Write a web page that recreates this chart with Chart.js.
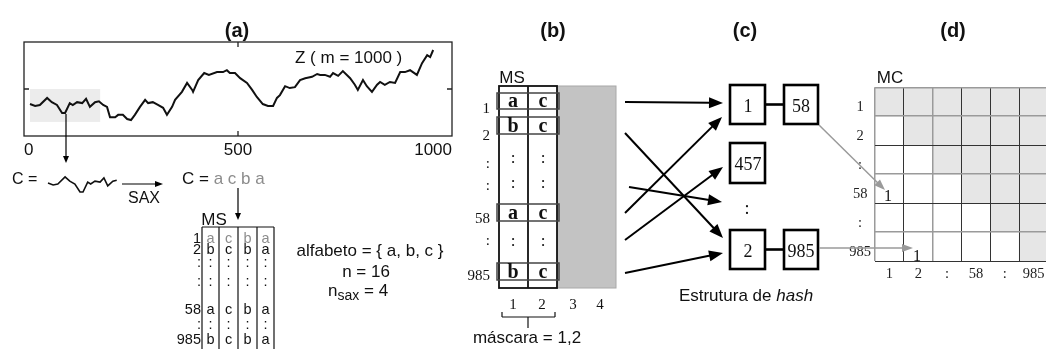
<!DOCTYPE html>
<html><head><meta charset="utf-8">
<script src="https://cdn.jsdelivr.net/npm/chart.js@4.4.1/dist/chart.umd.min.js"></script>
<style>
html,body{margin:0;padding:0;background:#fff;overflow:hidden;width:1046px;height:349px;}
#wrap{position:relative;width:1046px;height:349px;overflow:hidden;}
canvas{position:absolute;}
#cz{left:0;top:0;}
#cc{left:44px;top:164px;}
#cm{left:840px;top:76px;}
#ov{position:absolute;left:0;top:0;}
</style></head><body>
<div id="wrap">
<canvas id="cz" width="480" height="175"></canvas>
<canvas id="cc" width="78" height="41"></canvas>
<canvas id="cm" width="240" height="214"></canvas>
<svg id="ov" width="1046" height="349" xmlns="http://www.w3.org/2000/svg"></svg>
</div>
<script>
// ---------- DATA ----------
const zX = [14,26,37,54,65,77,89,96,107,114,124,136,145,154,166,175,185,194,201,213,220,231,241,250,259,271,283,290,301,313,325,334,346,353,369,381,393,395,407,421,432,451,465,474,481,493,505,521,533,544,558,570,582,591,598,610,621,633,645,657,673,685,692,703,715,722,734,745,762,773,780,792,801,813,825,832,843,855,867,879,890,902,918,930,942,949,956];
const zY = [-0.32,-0.36,-0.34,-0.19,-0.28,-0.34,-0.51,-0.51,-0.30,-0.34,-0.28,-0.30,-0.21,-0.38,-0.28,-0.26,-0.34,-0.38,-0.60,-0.60,-0.55,-0.55,-0.64,-0.66,-0.55,-0.38,-0.23,-0.30,-0.28,-0.34,-0.40,-0.55,-0.38,-0.23,-0.06,0.13,-0.02,-0.06,0.19,0.34,0.30,0.36,0.36,0.40,0.34,0.34,0.23,0.13,-0.02,-0.17,-0.32,-0.36,-0.36,-0.19,-0.13,0.06,0.02,0.04,0.19,0.23,0.26,0.32,0.30,0.30,0.26,0.34,0.28,0.38,0.23,0.09,-0.02,0.19,0.06,-0.06,0.09,0.15,0.09,0.15,0.13,0.36,0.36,0.40,0.30,0.55,0.72,0.68,0.83];
const xTicks = [0, 500, 1000];
const yTicks = [0];
const windowX = [14, 178];      // highlighted subsequence C
const windowY = [-0.70, 0];
const saxWord = ['a','c','b','a'];
const msLabels = ['1','2',':',':','58',':','985'];
const msRows = [['a','c','b','a'],['b','c','b','a'],[':',':',':',':'],[':',':',':',':'],['a','c','b','a'],[':',':',':',':'],['b','c','b','a']];
const maskCols = ['1','2','3','4'];
const hashKeys = ['1','457',':','2'];
const hashLinks = ['58','','','985'];
const mcLabels = ['1','2',':','58',':','985'];
const mcFilled = [[0,1],[0,2],[0,3],[0,4],[0,5],[0,6]];

const SANS = 'Liberation Sans, Arial, sans-serif';
const SERIF = 'Liberation Serif, Times New Roman, serif';

// ---------- (a) main series ----------
const zPlugin = {
  id:'zbox',
  beforeDatasetsDraw(ch){
    const {ctx, scales:{x,y}} = ch;
    ctx.save();
    ctx.fillStyle = '#ececec';
    const x0 = x.getPixelForValue(windowX[0]), x1 = x.getPixelForValue(windowX[1]);
    const y0 = y.getPixelForValue(windowY[1]), y1 = y.getPixelForValue(windowY[0]);
    ctx.fillRect(x0, y0, x1-x0, y1-y0);
    ctx.restore();
  },
  afterDraw(ch){
    const {ctx, chartArea:a, scales:{x,y}} = ch;
    ctx.save();
    ctx.strokeStyle = '#222'; ctx.lineWidth = 1.3;
    ctx.strokeRect(a.left, a.top, a.right-a.left, a.bottom-a.top);
    ctx.beginPath();
    x.ticks.forEach(t=>{
      if (t.value<=x.min || t.value>=x.max) return;
      const px = x.getPixelForValue(t.value);
      ctx.moveTo(px, a.top); ctx.lineTo(px, a.top+5);
      ctx.moveTo(px, a.bottom); ctx.lineTo(px, a.bottom-5);
    });
    y.ticks.forEach(t=>{
      const py = y.getPixelForValue(t.value);
      ctx.moveTo(a.left, py); ctx.lineTo(a.left+5, py);
      ctx.moveTo(a.right, py); ctx.lineTo(a.right-5, py);
    });
    ctx.stroke();
    ctx.restore();
  }
};
new Chart(document.getElementById('cz'), {
  type:'line',
  data:{datasets:[{data: zX.map((v,i)=>({x:v, y:zY[i]})), borderColor:'#111', borderWidth:2, pointRadius:0, tension:0, fill:false}]},
  options:{
    responsive:false, animation:false, events:[],
    layout:{padding:{left:24, top:42, right:28, bottom:9}},
    plugins:{legend:{display:false}, tooltip:{enabled:false}},
    scales:{
      x:{type:'linear', min:0, max:1000,
         afterBuildTicks:s=>{s.ticks = xTicks.map(v=>({value:v}));},
         grid:{display:false, drawTicks:false}, border:{display:false},
         ticks:{align:'inner', padding:4, color:'#111', maxRotation:0, autoSkip:false,
                font:{family:SANS, size:17}, callback:v=>String(v)},
         afterFit:s=>{s.height=30;}},
      y:{type:'linear', min:-1, max:1,
         afterBuildTicks:s=>{s.ticks = yTicks.map(v=>({value:v}));},
         grid:{display:false, drawTicks:false}, border:{display:false},
         ticks:{display:false}, afterFit:s=>{s.width=0;}}
    }
  },
  plugins:[zPlugin]
});

// ---------- (a) subsequence C ----------
const cPts = zX.map((v,i)=>({x:v, y:zY[i]})).filter(p=>p.x>=windowX[0] && p.x<=windowX[1]);
new Chart(document.getElementById('cc'), {
  type:'line',
  data:{datasets:[{data:cPts, borderColor:'#111', borderWidth:1.6, pointRadius:0, tension:0, fill:false, clip:false}]},
  options:{
    responsive:false, animation:false, events:[],
    layout:{padding:4},
    plugins:{legend:{display:false}, tooltip:{enabled:false}},
    scales:{ x:{type:'linear', display:false, min:windowX[0], max:windowX[1]},
             y:{type:'linear', display:false, min:windowY[0], max:windowY[1]} }
  }
});

// ---------- (d) MC matrix ----------
const xLineCol = ['#9a9a9a','#333','#9a9a9a','#333','#333','#333','#333'];
const yLineCol = ['#9a9a9a','#9a9a9a','#333','#9a9a9a','#333','#9a9a9a','#333'];
new Chart(document.getElementById('cm'), {
  type:'bar',
  data:{labels:mcLabels, datasets:[{data:mcFilled, backgroundColor:'#e6e6e6', borderWidth:0, barPercentage:1, categoryPercentage:1}]},
  options:{
    responsive:false, animation:false, events:[],
    layout:{padding:{top:8, right:32, bottom:4, left:0}},
    plugins:{legend:{display:false}, tooltip:{enabled:false}},
    scales:{
      x:{offset:true,
         grid:{z:1, offset:true, drawTicks:false, color:c=>xLineCol[c.index] || '#333', lineWidth:c=>(xLineCol[c.index]==='#9a9a9a'?1.5:1)},
         border:{display:false},
         ticks:{z:1, padding:6, color:'#222', font:{family:SERIF, size:14.5, lineHeight:1}},
         afterFit:s=>{s.height=25;}},
      y:{reverse:true, min:0, max:6,
         afterBuildTicks:s=>{
           const t=[]; for(let r=0;r<=6;r++){t.push({value:r}); if(r<6) t.push({value:r+0.68});}
           s.ticks=t;},
         grid:{z:1, drawTicks:false,
               color:c=>{const v=c.tick?c.tick.value:0; return Number.isInteger(v)?yLineCol[v]:'rgba(0,0,0,0)';},
               lineWidth:c=>{const v=c.tick?c.tick.value:0; return (Number.isInteger(v)&&yLineCol[v]==='#9a9a9a')?1.5:1;}},
         border:{display:false},
         ticks:{z:1, crossAlign:'center', padding:4, color:'#222', autoSkip:false, font:{family:SERIF, size:14.5, lineHeight:1},
                callback:v=>Number.isInteger(v)?'':mcLabels[Math.floor(v)]},
         afterFit:s=>{s.width=35;}}
    }
  }
});

// ---------- diagram overlay ----------
const S=[];
function L(x1,y1,x2,y2,c,w){S.push(`<line x1="${x1}" y1="${y1}" x2="${x2}" y2="${y2}" stroke="${c||'#000'}" stroke-width="${w||1.2}"/>`);}
function R(x,y,w,h,f,c,sw){S.push(`<rect x="${x}" y="${y}" width="${w}" height="${h}" fill="${f}" stroke="${c}" stroke-width="${sw}"/>`);}
function T(x,y,s,o){o=o||{};
  S.push(`<text x="${x}" y="${y}" font-family="${o.fam||SANS}" font-size="${o.size||16}" font-weight="${o.weight||'normal'}" font-style="${o.style||'normal'}" fill="${o.fill||'#111'}" text-anchor="${o.anchor||'middle'}" dominant-baseline="${o.base||'central'}">${s}</text>`);}
function A(x1,y1,x2,y2,c,w,hl,hw){
  const dx=x2-x1, dy=y2-y1, len=Math.hypot(dx,dy), ux=dx/len, uy=dy/len;
  const bx=x2-ux*hl, by=y2-uy*hl;
  L(x1,y1,bx+ux,by+uy,c,w);
  S.push(`<polygon points="${x2},${y2} ${bx-uy*hw/2},${by+ux*hw/2} ${bx+uy*hw/2},${by-ux*hw/2}" fill="${c}"/>`);
}

// panel (a)
T(237,30,'(a)',{size:20,weight:'bold'});
T(295,57,'Z ( m = 1000 )',{size:17,anchor:'start'});
A(66,114,66,163,'#000',1.2,7,6);
T(12,178,'C =',{size:16,anchor:'start'});
A(122,184,163,184,'#000',1.2,8,6);
T(144,197,'SAX',{size:16});
T(182,178,'C = <tspan fill="#8c8c8c">'+saxWord.join(' ')+'</tspan>',{size:17,anchor:'start'});
A(238,188,238,220,'#000',1.2,7,6);
T(214,219,'MS',{size:17});
const msX=[202,219,238,257,274];
L(msX[0],227,msX[4],227,'#111',1.2);
msX.forEach(x=>L(x,227,x,352,'#111',1.2));
const msY=[238,249,262,281,309,324,339];
msLabels.forEach((lb,i)=>{
  T(201,msY[i],lb,{size:14.5,anchor:'end'});
  msRows[i].forEach((ch,j)=>T((msX[j]+msX[j+1])/2,msY[i],ch,{size:14.5,fill:i===0?'#8c8c8c':'#111'}));
});
T(370,250,'alfabeto = { a, b, c }',{size:17});
T(366,271,'n = 16',{size:17});
T(328,290,'n<tspan font-size="14" dy="5">sax</tspan><tspan dy="-5"> = 4</tspan>',{size:17,anchor:'start'});

// panel (b)
T(553,30,'(b)',{size:20,weight:'bold'});
T(512,77,'MS',{size:17});
R(557,86,59,202,'#c3c3c3','#a8a8a8',1);
R(499,86,58,202,'#fff','#111',1.8);
L(528,86,528,288,'#111',1.8);
const bBoxes={0:[93,109],1:[117,134],4:[204,221],6:[263,280]};
const bDotY={2:157,3:182,5:240};
const bLabY=[108,135,163,185,218,240,275];
msLabels.forEach((lb,i)=>{
  T(490,bLabY[i],lb,{size:15,fam:SERIF,anchor:'end'});
  if(bBoxes[i]){
    const [t,b]=bBoxes[i];
    R(497,t,62,b-t,'none','#444',1.5);
    T(513,b-1.8,msRows[i][0],{size:20,fam:SERIF,weight:'bold',base:'alphabetic'});
    T(543,b-1.8,msRows[i][1],{size:20,fam:SERIF,weight:'bold',base:'alphabetic'});
  } else {
    T(513,bDotY[i],':',{size:17,fam:SERIF});
    T(543,bDotY[i],':',{size:17,fam:SERIF});
  }
});
const colX=[513,542,573,600];
maskCols.forEach((c,i)=>T(colX[i],304,c,{size:15,fam:SERIF}));
L(502,312,502,317,'#111',1.2); L(555,312,555,317,'#111',1.2);
L(502,317,555,317,'#111',1.2); L(528,317,528,328,'#111',1.2);
T(527,337,'máscara = 1,2',{size:17});

// arrows (b) -> (c)
A(625,102,723,103,'#000',2,14,11);
A(625,133,723,238,'#000',2,14,11);
A(629,187,722,202,'#000',2,14,11);
A(625,213,722,117,'#000',2,14,11);
A(625,240,723,167,'#000',2,14,11);
A(625,273,723,253,'#000',2,14,11);

// panel (c)
T(745,30,'(c)',{size:20,weight:'bold'});
const hBoxY=[[85,124],[143,183],null,[230,269]];
hashKeys.forEach((k,i)=>{
  const yy=hBoxY[i];
  if(!yy){ T(747,208,k,{size:18,fam:SERIF}); return; }
  R(730,yy[0],35,yy[1]-yy[0],'#fff','#000',2.6);
  T(748,(yy[0]+yy[1])/2+1,k,{size:18,fam:SERIF});
  if(hashLinks[i]){
    L(765,(yy[0]+yy[1])/2,784,(yy[0]+yy[1])/2,'#000',2.6);
    R(784,yy[0],34,yy[1]-yy[0],'#fff','#000',2.6);
    T(801,(yy[0]+yy[1])/2+1,hashLinks[i],{size:18,fam:SERIF});
  }
});
T(746,295,'Estrutura de <tspan font-style="italic">hash</tspan>',{size:17});

// panel (d)
T(953,30,'(d)',{size:20,weight:'bold'});
T(890,77,'MC',{size:17});
A(819,125,885,190,'#9a9a9a',1.5,11,8);
A(819,248,913,248,'#9a9a9a',1.5,11,8);
T(888,195,'1',{size:16,fam:SERIF});
T(917,255,'1',{size:16,fam:SERIF});

document.getElementById('ov').innerHTML = S.join('');
</script>
</body></html>
